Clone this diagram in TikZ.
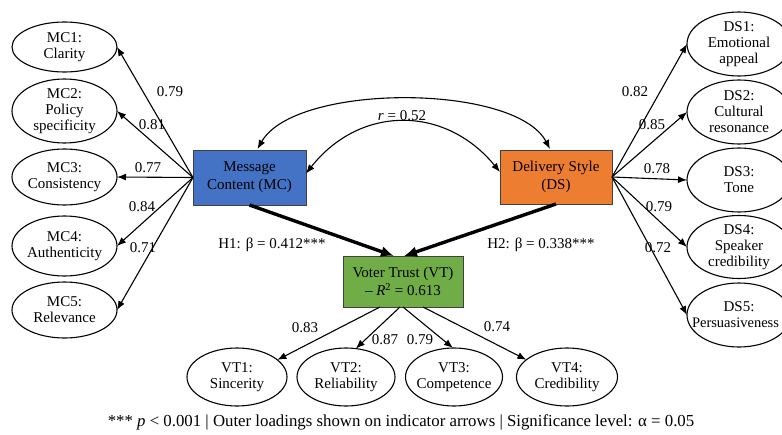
\documentclass[tikz,border=0pt]{standalone}
\usepackage{fontspec}
\setmainfont{Liberation Serif}
\usetikzlibrary{arrows.meta,shapes.geometric}
\definecolor{mcblue}{HTML}{4472C4}
\definecolor{dsorange}{HTML}{ED7D31}
\definecolor{vtgreen}{HTML}{70AD47}
\newcommand\ztxt[1]{\makebox[0pt]{#1}}
\begin{document}
\begin{tikzpicture}[x=1pt,y=-1pt,
  font=\fontsize{15}{16}\selectfont,
  ind/.style={draw, ellipse, line width=1.1pt, inner xsep=0pt, inner ysep=-3pt, outer sep=0pt, align=center, minimum width=105pt, minimum height=56pt},
  lat/.style={draw=black!75, line width=0.8pt, align=center, inner sep=0pt, outer sep=0pt, font=\fontsize{15}{18}\selectfont},
  load/.style={-{Latex[length=9pt,width=7pt]}, line width=1.1pt},
  path/.style={-{Latex[length=13pt,width=11pt]}, line width=3.4pt},
  corr/.style={{Latex[length=9pt,width=7pt]}-{Latex[length=9pt,width=7pt]}, line width=1.1pt},
  lbl/.style={inner sep=0pt}
]
\clip (0,0) rectangle (782,434);
% latent constructs
\node[lat, fill=mcblue, minimum width=113pt, minimum height=55pt] (mc) at (249.5,177.5) {Message\\Content (MC)};
\node[lat, fill=dsorange, minimum width=112pt, minimum height=54pt] (ds) at (556,177) {Delivery Style\\(DS)};
\node[lat, fill=vtgreen, minimum width=120pt, minimum height=51pt] (vt) at (403,281.5) {Voter Trust (VT)\\– \textit{R}\textsuperscript{2} = 0.613};
% MC indicators
\node[ind, minimum height=50pt] (mc1) at (64.5,47) {\ztxt{MC1:}\\\ztxt{Clarity}};
\node[ind, minimum height=64pt] (mc2) at (64.5,111) {\ztxt{MC2:}\\\ztxt{Policy}\\\ztxt{specificity}};
\node[ind, minimum height=56pt] (mc3) at (64.5,177) {\ztxt{MC3:}\\\ztxt{Consistency}};
\node[ind, minimum height=60pt] (mc4) at (64.5,246) {\ztxt{MC4:}\\\ztxt{Authenticity}};
\node[ind, minimum height=56pt] (mc5) at (64.5,310) {\ztxt{MC5:}\\\ztxt{Relevance}};
% DS indicators
\node[ind, minimum width=104pt, minimum height=64pt] (ds1) at (739,44) {\ztxt{DS1:}\\\ztxt{Emotional}\\\ztxt{appeal}};
\node[ind, minimum width=104pt, minimum height=64pt] (ds2) at (739,112) {\ztxt{DS2:}\\\ztxt{Cultural}\\\ztxt{resonance}};
\node[ind, minimum width=104pt, minimum height=64pt] (ds3) at (739,180) {\ztxt{DS3:}\\\ztxt{Tone}};
\node[ind, minimum width=104pt, minimum height=63pt] (ds4) at (739,247) {\ztxt{DS4:}\\\ztxt{Speaker}\\\ztxt{credibility}};
\node[ind, minimum width=104pt, minimum height=64pt] (ds5) at (739,315) {\ztxt{DS5:}\\\ztxt{\fontsize{14.5}{16}\selectfont Persuasiveness\hspace*{7pt}}};
% VT indicators
\node[ind, minimum width=100pt, minimum height=58pt] (vt1) at (237,377) {\ztxt{VT1:}\\\ztxt{Sincerity}};
\node[ind, minimum width=98pt, minimum height=58pt] (vt2) at (346,377) {\ztxt{VT2:}\\\ztxt{Reliability}};
\node[ind, minimum width=97pt, minimum height=58pt] (vt3) at (454,377) {\ztxt{VT3:}\\\ztxt{Competence}};
\node[ind, minimum width=101pt, minimum height=58pt] (vt4) at (567,377) {\ztxt{VT4:}\\\ztxt{Credibility}};
% loadings MC
\draw[load] (mc.west) -- (mc1.east);
\draw[load] (mc.west) -- (mc2.east);
\draw[load] (mc.west) -- (mc3.east);
\draw[load] (mc.west) -- (mc4.east);
\draw[load] (mc.west) -- (mc5.east);
% loadings DS
\draw[load] (ds.east) -- (ds1.west);
\draw[load] (ds.east) -- (ds2.west);
\draw[load] (ds.east) -- (ds3.west);
\draw[load] (ds.east) -- (ds4.west);
\draw[load] (ds.east) -- (ds5.west);
% loadings VT
\coordinate (vtb1) at ([xshift=-23pt]vt.south);
\coordinate (vtb2) at ([xshift=-3pt]vt.south);
\coordinate (vtb3) at ([xshift=0pt]vt.south);
\coordinate (vtb4) at ([xshift=20pt]vt.south);
\draw[load] (vtb1) -- (vt1.23);
\draw[load] (vtb2) -- (vt2.71);
\draw[load] (vtb3) -- (vt3.92);
\draw[load] (vtb4) -- (vt4.157);
% structural paths
\draw[path] (mc.south) -- ([xshift=-9pt]vt.north);
\draw[path] (ds.south) -- ([xshift=1pt]vt.north);
% correlation
\draw[corr] ([xshift=8pt,yshift=1pt]mc.north) .. controls (295,83) and (515,83) .. ([xshift=-6pt,yshift=1pt]ds.north);
\draw[corr] ([yshift=4pt]mc.east) .. controls (360,105) and (445,105) .. ([yshift=5pt]ds.west);
% labels
\node[lbl] (r) at (402,116) {\textit{r} = 0.52};
\node[lbl] (h1) at (272,245) {H1: β = 0.412***};
\node[lbl] (h2) at (541,245) {H2: β = 0.338***};
\node[lbl] (l1) at (170,92) {0.79};
\node[lbl] (l2) at (152,125) {0.81};
\node[lbl] (l3) at (148,168) {0.77};
\node[lbl] (l4) at (142,207) {0.84};
\node[lbl] (l5) at (143,248) {0.71};
\node[lbl] (r1) at (635,92) {0.82};
\node[lbl] (r2) at (652,125) {0.85};
\node[lbl] (r3) at (657,169) {0.78};
\node[lbl] (r4) at (659,207) {0.79};
\node[lbl] (r5) at (658,248) {0.72};
\node[lbl] (b1) at (305,328) {0.83};
\node[lbl] (b2) at (385,340) {0.87};
\node[lbl] (b3) at (420,340) {0.79};
\node[lbl] (b4) at (497,327) {0.74};
\node[lbl, font=\fontsize{16.8}{18}\selectfont] (cap) at (401,422) {*** \textit{p} < 0.001 | Outer loadings shown on indicator arrows | Significance level: α = 0.05};
\end{tikzpicture}
\end{document}
